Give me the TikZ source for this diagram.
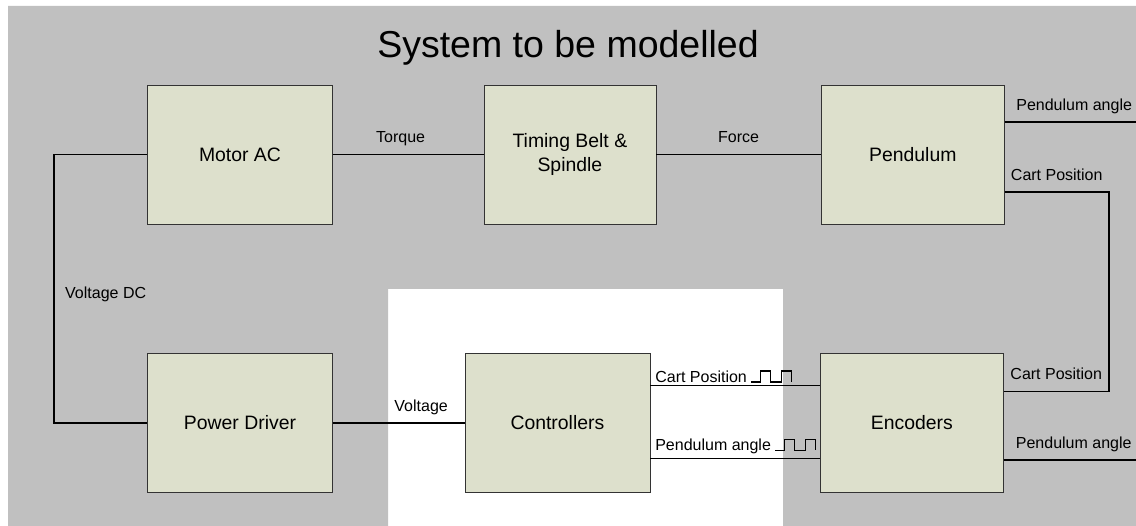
\documentclass[tikz,border=0pt]{standalone}
\usepackage{fontspec}
\setmainfont{Liberation Sans}
\usetikzlibrary{positioning, calc}

\definecolor{panelgray}{RGB}{192,192,192}
\definecolor{blockfill}{RGB}{221,224,204}

% little pulse train drawn behind the encoder signal names
\tikzset{sqwave/.pic={
    \draw[line width=1.2pt] (0,0) -- ++(9,0) -- ++(0,11) -- ++(10,0) -- ++(0,-11)
        -- ++(11,0) -- ++(0,11) -- ++(10,0) -- ++(0,-11);
}}

\begin{document}
\begin{tikzpicture}[x=1pt, y=1pt,
        block/.style={rectangle, draw=black!80, fill=blockfill, minimum width=185pt, minimum height=139pt, align=center, inner sep=0pt, font=\fontsize{19.4}{23.3}\selectfont},
        signal/.style={inner sep=2.5pt, font=\fontsize{16}{19}\selectfont},
        tag/.style={signal, anchor=base, yshift=11.5pt},
        wire/.style={draw, line width=1.4pt}]

        % Background panel, cut open round the controllers
        \useasboundingbox (0,0) rectangle (1136,526);
        \fill[panelgray] (8,0) -- (8,520) -- (1136,520) -- (1136,0) -- (783,0)
            -- (783,237) -- (388,237) -- (388,0) -- cycle;
        \node [font=\fontsize{37.5}{45}\selectfont] (title) at (568,478) {System to be modelled};

        % Nodes
        \node [block] (motor) at (240,371.5) {Motor AC};
        \node [block, right=151pt of motor, minimum width=172pt] (belt) {Timing Belt \&\\ Spindle};
        \node [block, right=165pt of belt, minimum width=183pt] (pendulum) {Pendulum};
        \node [block, below=129pt of motor] (driver) {Power Driver};
        \node [block, right=132pt of driver] (ctrl) {Controllers};
        \node [block, right=170pt of ctrl, minimum width=183pt] (encoders) {Encoders};

        % Free ends of the loose signals
        \coordinate (dcleft) at (54,371.5);
        \coordinate (angtop) at (1136,404);
        \coordinate (cartloop) at (1109,334);
        \coordinate (angbot) at (1136,66);

        % Paths
        \draw [wire] (motor.west) -- (dcleft) |- node[signal, pos=0.26, right, xshift=8pt] {Voltage DC} (driver.west);
        \draw [wire] (motor) -- node[tag, pos=0.45] {Torque} (belt);
        \draw [wire] (belt) -- node[tag] {Force} (pendulum);
        \draw [wire] (pendulum.east |- angtop) -- node[tag, pos=0.53] {Pendulum angle} (angtop);
        \draw [wire] (pendulum.east |- cartloop) -- node[tag] {Cart Position} (cartloop)
            |- node[tag, pos=0.75] {Cart Position} ($(encoders.east)+(0,31.5)$);
        \draw [wire] (encoders.east |- angbot) -- node[tag, pos=0.53] {Pendulum angle} (angbot);
        \draw [wire] (driver) -- node[tag, pos=0.67] {Voltage} (ctrl);

        % Encoder signals into the controllers
        \draw [wire] ($(ctrl.east)+(0,37.5)$) -- node[signal, pos=0, anchor=south west, xshift=2pt] (cartlbl) {Cart Position} ($(encoders.west)+(0,37.5)$);
        \draw [wire] ($(ctrl.east)+(0,-35.5)$) -- node[signal, pos=0, anchor=south west, xshift=2pt, yshift=1.5pt] (anglbl) {Pendulum angle} ($(encoders.west)+(0,-35.5)$);
        \pic at ($(cartlbl.base east)+(1,0)$) {sqwave};
        \pic at ($(anglbl.base east)+(1,0)$) {sqwave};

    \end{tikzpicture}
\end{document}
